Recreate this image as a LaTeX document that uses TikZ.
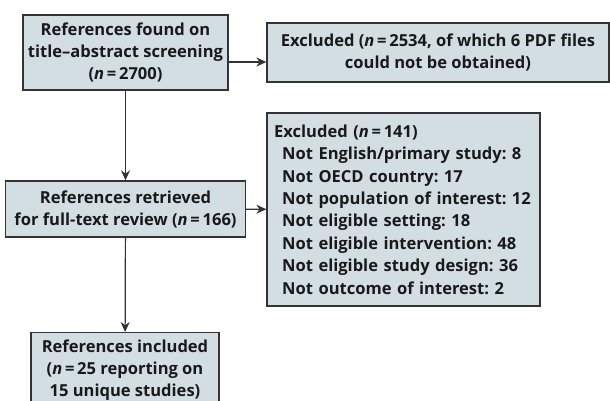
\documentclass[tikz,border=0pt]{standalone}
\usepackage{fontspec}
\setmainfont{Open Sans}
\usetikzlibrary{arrows.meta}
\frenchspacing
\def\pxl{0.75pt}
\tikzset{
  box/.style = {draw=black!80, line width=1.3*\pxl, fill=boxfill, text=black!90,
    align=center, inner sep=0pt, font=\bfseries\fontsize{12.4}{16.5}\selectfont},
  arr/.style = {draw=black!80, line width=1.2*\pxl, -{Stealth[length=10*\pxl, width=9*\pxl]}}
}
\definecolor{boxfill}{HTML}{D3DEE3}
\begin{document}
\begin{tikzpicture}[x=\pxl, y=-\pxl]
  \useasboundingbox (0,0) rectangle (610,400);
  \node[box, minimum width=205*\pxl, minimum height=75*\pxl] (found) at (125.5,52.5)
    {References found on\\title--abstract screening\\(\textit{n}\,=\,2700)};
  \node[box, minimum width=342*\pxl, minimum height=59*\pxl] (excl1) at (438,52.5)
    {Excluded (\textit{n}\,=\,2534, of which 6 PDF files\\could not be obtained)};
  \node[box, minimum width=240*\pxl, minimum height=56*\pxl] (retr) at (125.5,209)
    {References retrieved\\for full-text review (\textit{n}\,=\,166)};
  \node[box, minimum width=273*\pxl, minimum height=193*\pxl, text width=194pt,
    align=left, font=\bfseries\fontsize{12.4}{16.8}\selectfont] (excl2) at (403.5,209.5)
    {Excluded (\textit{n}\,=\,141)\\
     \hspace*{6pt}Not English/primary study: 8\\
     \hspace*{6pt}Not OECD country: 17\\
     \hspace*{6pt}Not population of interest: 12\\
     \hspace*{6pt}Not eligible setting: 18\\
     \hspace*{6pt}Not eligible intervention: 48\\
     \hspace*{6pt}Not eligible study design: 36\\
     \hspace*{6pt}Not outcome of interest: 2};
  \node[box, minimum width=188*\pxl, minimum height=75*\pxl, anchor=north] (incl) at (125,332)
    {References included\\(\textit{n}\,=\,25 reporting on\\15 unique studies)};
  % connectors
  \draw[arr] ([yshift=-9.5*\pxl]found.east) -- ([yshift=-9.5*\pxl]found.east -| excl1.west);
  \draw[arr] (found) -- (retr);
  \draw[arr] (retr) -- (excl2);
  \draw[arr] (retr) -- (incl);
\end{tikzpicture}
\end{document}
